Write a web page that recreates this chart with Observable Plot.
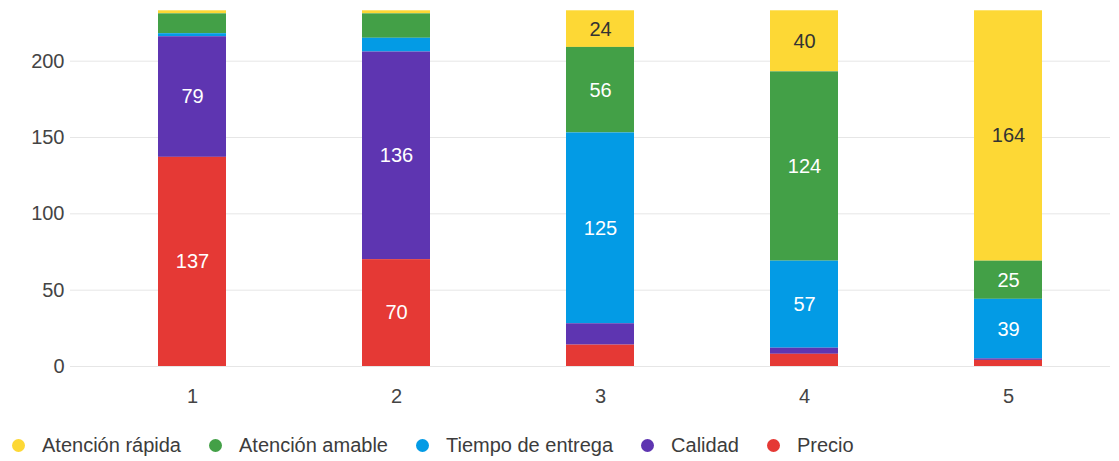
<!DOCTYPE html>
<html>
<head>
<meta charset="utf-8">
<script src="https://cdn.jsdelivr.net/npm/d3@7"></script>
<script src="https://cdn.jsdelivr.net/npm/@observablehq/plot@0.6"></script>
<style>
  html, body { margin: 0; padding: 0; background: #fff; }
  body { width: 1119px; height: 461px; overflow: hidden; font-family: "Liberation Sans", Arial, sans-serif; }
  #legend { display: flex; align-items: center; height: 40px; margin-top: 10px; padding-left: 12px; font-size: 20px; color: #3c3c3c; }
  .item { display: flex; align-items: center; margin-right: 28px; }
  .sw { width: 13px; height: 13px; border-radius: 50%; margin-right: 17px; }
</style>
</head>
<body>
<div id="chart"></div>
<div id="legend"></div>
<script>
const categories = ["1", "2", "3", "4", "5"];
const series = ["Atención rápida", "Atención amable", "Tiempo de entrega", "Calidad", "Precio"];
const colors = ["#fdd835", "#43a047", "#039be5", "#5e35b1", "#e53935"];
const atencionRapida = [2, 2, 24, 40, 164];
const atencionAmable = [13, 16, 56, 124, 25];
const tiempoEntrega = [2, 9, 125, 57, 39];
const calidad = [79, 136, 14, 4, 1];
const precio = [137, 70, 14, 8, 4];
const yTicks = [0, 50, 100, 150, 200];

const valuesBySeries = [atencionRapida, atencionAmable, tiempoEntrega, calidad, precio];
const data = [];
series.forEach((s, i) => categories.forEach((c, j) => data.push({cat: c, serie: s, value: valuesBySeries[i][j]})));
const stackOrder = series.slice().reverse();
const labelColor = s => s === "Atención rápida" ? "#333333" : "#ffffff";

const chart = Plot.plot({
  width: 1119,
  height: 415,
  marginLeft: 70,
  marginRight: 9,
  marginTop: 0,
  marginBottom: 49,
  style: {fontFamily: "'Liberation Sans', Arial, sans-serif", background: "#fff"},
  x: {domain: categories, range: [90, 1110], paddingInner: 0.667, paddingOuter: 0.333, label: null},
  y: {domain: [0, 240], range: [366, -0.4], label: null},
  color: {domain: series, range: colors},
  marks: [
    Plot.ruleY(yTicks, {stroke: "#e6e6e6", strokeWidth: 1}),
    Plot.barY(data, Plot.stackY({x: "cat", y: "value", z: "serie", fill: "serie", order: stackOrder})),
    Plot.text(data, Plot.stackY({
      x: "cat", y: "value", z: "serie", order: stackOrder,
      text: d => d.value >= 20 ? String(d.value) : "",
      fill: d => labelColor(d.serie),
      fontSize: 20
    })),
    Plot.axisY({ticks: yTicks, tickSize: 0, tickPadding: 6, fontSize: 20, color: "#444", label: null}),
    Plot.axisX({tickSize: 0, tickPadding: 22, fontSize: 20, color: "#444", label: null})
  ]
});
document.getElementById("chart").appendChild(chart);

const legend = document.getElementById("legend");
series.forEach((s, i) => {
  const it = document.createElement("div");
  it.className = "item";
  const sw = document.createElement("span");
  sw.className = "sw";
  sw.style.background = colors[i];
  const t = document.createElement("span");
  t.textContent = s;
  it.appendChild(sw);
  it.appendChild(t);
  legend.appendChild(it);
});
</script>
</body>
</html>
